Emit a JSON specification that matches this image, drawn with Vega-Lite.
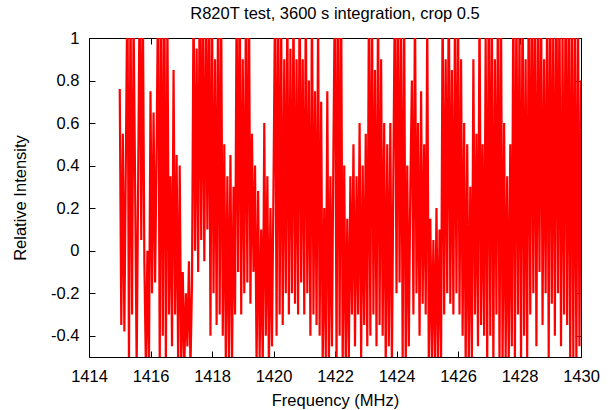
{
"$schema": "https://vega.github.io/schema/vega-lite/v6.json",
"width": 492,
"height": 319,
"autosize": {"type": "none"},
"padding": {"left": 89, "top": 38, "right": 30, "bottom": 53},
"background": "white",
"title": {"text": "R820T test, 3600 s integration, crop 0.5", "font": "Liberation Sans", "fontSize": 16.5, "fontWeight": "normal", "color": "black", "anchor": "middle", "baseline": "alphabetic", "offset": 8, "dy": 72},
"config": {
  "view": {"stroke": "black", "strokeWidth": 1},
  "axis": {"grid": false, "domain": false, "tickColor": "black", "tickWidth": 1, "tickSize": -6, "labelFont": "Liberation Sans", "labelFontSize": 16.5, "labelColor": "black", "labelFlush": false, "titleFont": "Liberation Sans", "titleFontSize": 16.5, "titleFontWeight": "normal", "titleColor": "black", "minExtent": 0}
},
"data": {"values": [
{"freq":1415.00,"rel":0.76},{"freq":1415.05,"rel":-0.35},{"freq":1415.10,"rel":0.55},{"freq":1415.15,"rel":-0.38},{"freq":1415.20,"rel":0.45},
{"freq":1415.25,"rel":1.3},{"freq":1415.30,"rel":-0.55},{"freq":1415.35,"rel":1.2},{"freq":1415.40,"rel":-0.3},{"freq":1415.45,"rel":1.1},
{"freq":1415.50,"rel":0.3},{"freq":1415.55,"rel":-0.55},{"freq":1415.60,"rel":0.35},
{"freq":1415.65,"rel":1.3},{"freq":1415.70,"rel":0.05},{"freq":1415.75,"rel":1.2},{"freq":1415.80,"rel":-0.05},
{"freq":1415.85,"rel":-0.55},{"freq":1415.90,"rel":0.0},{"freq":1415.95,"rel":-0.55},
{"freq":1416.00,"rel":0.75},{"freq":1416.05,"rel":-0.2},{"freq":1416.10,"rel":0.65},{"freq":1416.15,"rel":-0.15},{"freq":1416.20,"rel":0.5},
{"freq":1416.25,"rel":1.3},{"freq":1416.30,"rel":-0.55},{"freq":1416.35,"rel":1.2},{"freq":1416.40,"rel":-0.4},{"freq":1416.45,"rel":1.3},{"freq":1416.50,"rel":-0.55},{"freq":1416.55,"rel":1.1},{"freq":1416.60,"rel":-0.3},
{"freq":1416.65,"rel":0.35},{"freq":1416.70,"rel":-0.45},{"freq":1416.75,"rel":0.85},{"freq":1416.80,"rel":-0.3},{"freq":1416.85,"rel":0.45},{"freq":1416.90,"rel":-0.55},{"freq":1416.95,"rel":0.4},
{"freq":1417.00,"rel":-0.55},{"freq":1417.05,"rel":-0.1},{"freq":1417.10,"rel":-0.55},{"freq":1417.15,"rel":-0.2},{"freq":1417.20,"rel":-0.45},{"freq":1417.25,"rel":-0.05},{"freq":1417.30,"rel":-0.55},{"freq":1417.35,"rel":-0.15},
{"freq":1417.40,"rel":1.2},{"freq":1417.45,"rel":0.0},{"freq":1417.50,"rel":0.95},{"freq":1417.55,"rel":-0.1},{"freq":1417.60,"rel":1.3},{"freq":1417.65,"rel":0.05},{"freq":1417.70,"rel":1.2},{"freq":1417.75,"rel":-0.05},{"freq":1417.80,"rel":1.1},{"freq":1417.85,"rel":0.1},
{"freq":1417.90,"rel":1.3},{"freq":1417.95,"rel":-0.4},{"freq":1418.00,"rel":1.2},{"freq":1418.05,"rel":-0.2},{"freq":1418.10,"rel":0.9},{"freq":1418.15,"rel":-0.35},{"freq":1418.20,"rel":1.3},{"freq":1418.25,"rel":-0.3},{"freq":1418.30,"rel":1.1},{"freq":1418.35,"rel":-0.4},
{"freq":1418.40,"rel":0.5},{"freq":1418.45,"rel":-0.55},{"freq":1418.50,"rel":0.35},{"freq":1418.55,"rel":-0.5},{"freq":1418.60,"rel":0.45},{"freq":1418.65,"rel":-0.55},{"freq":1418.70,"rel":0.3},{"freq":1418.75,"rel":-0.3},
{"freq":1418.80,"rel":1.2},{"freq":1418.85,"rel":-0.1},{"freq":1418.90,"rel":1.3},{"freq":1418.95,"rel":-0.3},{"freq":1419.00,"rel":0.9},{"freq":1419.05,"rel":-0.2},{"freq":1419.10,"rel":1.1},{"freq":1419.15,"rel":-0.15},{"freq":1419.20,"rel":1.3},{"freq":1419.25,"rel":-0.25},
{"freq":1419.30,"rel":0.55},{"freq":1419.35,"rel":-0.1},{"freq":1419.40,"rel":0.4},
{"freq":1419.45,"rel":-0.55},{"freq":1419.50,"rel":0.28},{"freq":1419.55,"rel":-0.5},{"freq":1419.60,"rel":0.1},{"freq":1419.65,"rel":-0.55},{"freq":1419.70,"rel":0.6},{"freq":1419.75,"rel":-0.4},{"freq":1419.80,"rel":0.35},{"freq":1419.85,"rel":-0.55},{"freq":1419.90,"rel":0.2},{"freq":1419.95,"rel":-0.45},{"freq":1420.00,"rel":0.3},
{"freq":1420.05,"rel":1.2},{"freq":1420.10,"rel":-0.4},{"freq":1420.15,"rel":1.3},{"freq":1420.20,"rel":-0.3},{"freq":1420.25,"rel":1.1},{"freq":1420.30,"rel":-0.35},{"freq":1420.35,"rel":0.9},{"freq":1420.40,"rel":-0.2},{"freq":1420.45,"rel":1.2},
{"freq":1420.50,"rel":-0.3},{"freq":1420.55,"rel":0.95},{"freq":1420.60,"rel":-0.2},{"freq":1420.65,"rel":1.2},{"freq":1420.70,"rel":-0.25},{"freq":1420.75,"rel":0.9},{"freq":1420.80,"rel":-0.3},{"freq":1420.85,"rel":1.3},{"freq":1420.90,"rel":-0.15},{"freq":1420.95,"rel":0.9},
{"freq":1421.00,"rel":-0.3},{"freq":1421.05,"rel":1.2},{"freq":1421.10,"rel":-0.2},
{"freq":1421.15,"rel":0.8},{"freq":1421.20,"rel":-0.4},{"freq":1421.25,"rel":1.2},{"freq":1421.30,"rel":-0.3},{"freq":1421.35,"rel":0.75},{"freq":1421.40,"rel":-0.35},{"freq":1421.45,"rel":1.1},{"freq":1421.50,"rel":-0.4},{"freq":1421.55,"rel":0.7},
{"freq":1421.60,"rel":-0.55},{"freq":1421.65,"rel":0.2},{"freq":1421.70,"rel":-0.5},{"freq":1421.75,"rel":0.75},{"freq":1421.80,"rel":-0.55},{"freq":1421.85,"rel":0.35},{"freq":1421.90,"rel":-0.45},{"freq":1421.95,"rel":0.5},
{"freq":1422.00,"rel":1.3},{"freq":1422.05,"rel":-0.55},{"freq":1422.10,"rel":1.3},{"freq":1422.15,"rel":-0.4},{"freq":1422.20,"rel":1.2},{"freq":1422.25,"rel":-0.55},
{"freq":1422.30,"rel":0.4},{"freq":1422.35,"rel":-0.55},{"freq":1422.40,"rel":0.15},{"freq":1422.45,"rel":-0.5},{"freq":1422.50,"rel":0.35},
{"freq":1422.55,"rel":-0.3},{"freq":1422.60,"rel":0.5},{"freq":1422.65,"rel":-0.45},{"freq":1422.70,"rel":0.35},{"freq":1422.75,"rel":-0.3},{"freq":1422.80,"rel":0.6},{"freq":1422.85,"rel":-0.5},{"freq":1422.90,"rel":0.4},{"freq":1422.95,"rel":-0.35},{"freq":1423.00,"rel":0.55},{"freq":1423.05,"rel":-0.45},
{"freq":1423.10,"rel":1.1},{"freq":1423.15,"rel":-0.4},{"freq":1423.20,"rel":1.3},{"freq":1423.25,"rel":-0.3},{"freq":1423.30,"rel":0.85},{"freq":1423.35,"rel":-0.45},{"freq":1423.40,"rel":1.2},{"freq":1423.45,"rel":-0.35},{"freq":1423.50,"rel":0.9},{"freq":1423.55,"rel":-0.4},
{"freq":1423.60,"rel":0.6},{"freq":1423.65,"rel":-0.55},{"freq":1423.70,"rel":0.5},{"freq":1423.75,"rel":-0.45},{"freq":1423.80,"rel":0.6},{"freq":1423.85,"rel":-0.55},{"freq":1423.90,"rel":0.4},
{"freq":1423.95,"rel":1.3},{"freq":1424.00,"rel":-0.2},{"freq":1424.05,"rel":1.2},{"freq":1424.10,"rel":-0.15},{"freq":1424.15,"rel":1.1},
{"freq":1424.20,"rel":-0.5},{"freq":1424.25,"rel":1.1},{"freq":1424.30,"rel":-0.55},{"freq":1424.35,"rel":0.4},{"freq":1424.40,"rel":-0.45},{"freq":1424.45,"rel":0.3},
{"freq":1424.50,"rel":0.8},{"freq":1424.55,"rel":-0.3},{"freq":1424.60,"rel":1.2},{"freq":1424.65,"rel":-0.2},{"freq":1424.70,"rel":0.6},{"freq":1424.75,"rel":-0.4},{"freq":1424.80,"rel":0.75},{"freq":1424.85,"rel":-0.25},{"freq":1424.90,"rel":0.5},{"freq":1424.95,"rel":-0.3},
{"freq":1425.00,"rel":1.1},{"freq":1425.05,"rel":-0.55},{"freq":1425.10,"rel":0.15},{"freq":1425.15,"rel":-0.5},{"freq":1425.20,"rel":0.05},{"freq":1425.25,"rel":-0.55},{"freq":1425.30,"rel":0.2},{"freq":1425.35,"rel":-0.55},{"freq":1425.40,"rel":0.1},{"freq":1425.45,"rel":-0.5},
{"freq":1425.50,"rel":1.2},{"freq":1425.55,"rel":-0.3},{"freq":1425.60,"rel":0.9},{"freq":1425.65,"rel":-0.2},{"freq":1425.70,"rel":1.3},{"freq":1425.75,"rel":-0.25},{"freq":1425.80,"rel":0.85},{"freq":1425.85,"rel":-0.3},{"freq":1425.90,"rel":1.1},{"freq":1425.95,"rel":-0.2},{"freq":1426.00,"rel":1.2},{"freq":1426.05,"rel":-0.3},
{"freq":1426.10,"rel":0.9},{"freq":1426.15,"rel":-0.4},{"freq":1426.20,"rel":0.6},
{"freq":1426.25,"rel":-0.55},{"freq":1426.30,"rel":0.5},{"freq":1426.35,"rel":-0.55},{"freq":1426.40,"rel":0.3},{"freq":1426.45,"rel":-0.5},
{"freq":1426.50,"rel":0.9},{"freq":1426.55,"rel":-0.3},{"freq":1426.60,"rel":0.55},{"freq":1426.65,"rel":-0.45},{"freq":1426.70,"rel":1.2},{"freq":1426.75,"rel":-0.35},{"freq":1426.80,"rel":0.5},{"freq":1426.85,"rel":-0.4},{"freq":1426.90,"rel":1.0},
{"freq":1426.95,"rel":-0.55},{"freq":1427.00,"rel":1.3},{"freq":1427.05,"rel":-0.4},{"freq":1427.10,"rel":1.2},{"freq":1427.15,"rel":-0.55},{"freq":1427.20,"rel":0.9},{"freq":1427.25,"rel":-0.3},{"freq":1427.30,"rel":1.3},{"freq":1427.35,"rel":-0.55},{"freq":1427.40,"rel":1.1},
{"freq":1427.45,"rel":-0.55},{"freq":1427.50,"rel":0.6},{"freq":1427.55,"rel":-0.5},{"freq":1427.60,"rel":0.35},{"freq":1427.65,"rel":-0.55},{"freq":1427.70,"rel":0.5},{"freq":1427.75,"rel":-0.45},
{"freq":1427.80,"rel":1.3},{"freq":1427.85,"rel":-0.55},{"freq":1427.90,"rel":1.2},{"freq":1427.95,"rel":-0.3},{"freq":1428.00,"rel":1.1},{"freq":1428.05,"rel":-0.55},{"freq":1428.10,"rel":1.3},{"freq":1428.15,"rel":-0.4},{"freq":1428.20,"rel":0.9},{"freq":1428.25,"rel":-0.5},
{"freq":1428.30,"rel":1.3},{"freq":1428.35,"rel":-0.3},{"freq":1428.40,"rel":1.2},{"freq":1428.45,"rel":-0.2},{"freq":1428.50,"rel":1.3},{"freq":1428.55,"rel":-0.45},{"freq":1428.60,"rel":1.1},{"freq":1428.65,"rel":-0.1},{"freq":1428.70,"rel":1.3},{"freq":1428.75,"rel":-0.35},{"freq":1428.80,"rel":0.9},{"freq":1428.85,"rel":-0.2},{"freq":1428.90,"rel":1.2},{"freq":1428.95,"rel":-0.5},{"freq":1429.00,"rel":1.3},{"freq":1429.05,"rel":-0.25},{"freq":1429.10,"rel":1.1},{"freq":1429.15,"rel":-0.4},{"freq":1429.20,"rel":1.3},{"freq":1429.25,"rel":-0.2},{"freq":1429.30,"rel":1.2},{"freq":1429.35,"rel":-0.45},{"freq":1429.40,"rel":1.0},{"freq":1429.45,"rel":-0.3},{"freq":1429.50,"rel":1.3},{"freq":1429.55,"rel":-0.35},{"freq":1429.60,"rel":1.2},
{"freq":1429.65,"rel":-0.55},{"freq":1429.70,"rel":1.3},{"freq":1429.75,"rel":-0.5},{"freq":1429.80,"rel":1.1},{"freq":1429.85,"rel":-0.55},{"freq":1429.90,"rel":1.2},{"freq":1429.95,"rel":-0.45},{"freq":1430.00,"rel":0.8}
]},
"layer": [
  {
    "mark": {"type": "line", "color": "#ff0000", "strokeWidth": 2.2, "clip": true},
    "encoding": {
      "x": {"field": "freq", "type": "quantitative", "scale": {"domain": [1414, 1430], "nice": false, "zero": false},
            "axis": {"orient": "bottom", "values": [1414,1416,1418,1420,1422,1424,1426,1428,1430], "format": "d", "labelPadding": 17, "labelBaseline": "top", "title": "Frequency (MHz)", "titleX": 246, "titleY": 48, "titleBaseline": "alphabetic", "titleAnchor": "middle"}},
      "y": {"field": "rel", "type": "quantitative", "scale": {"domain": [-0.5, 1], "nice": false, "zero": false},
            "axis": {"orient": "left", "values": [-0.4,-0.2,0,0.2,0.4,0.6,0.8,1], "labelExpr": "datum.value < 0 ? '-' + format(-datum.value, '~g') : format(datum.value, '~g')", "labelPadding": 16, "title": "Relative Intensity", "titleX": -64, "titleY": 159.5, "titleAngle": -90, "titleBaseline": "alphabetic", "titleAnchor": "middle"}}
    }
  },
  {
    "mark": {"type": "point", "opacity": 0},
    "encoding": {
      "x": {"field": "freq", "type": "quantitative", "scale": {"domain": [1414, 1430], "nice": false, "zero": false},
            "axis": {"orient": "top", "values": [1414,1416,1418,1420,1422,1424,1426,1428,1430], "labels": false, "title": null}},
      "y": {"field": "rel", "type": "quantitative", "scale": {"domain": [-0.5, 1], "nice": false, "zero": false},
            "axis": {"orient": "right", "values": [-0.4,-0.2,0,0.2,0.4,0.6,0.8,1], "labels": false, "title": null}}
    }
  }
],
"resolve": {"axis": {"x": "independent", "y": "independent"}}
}
